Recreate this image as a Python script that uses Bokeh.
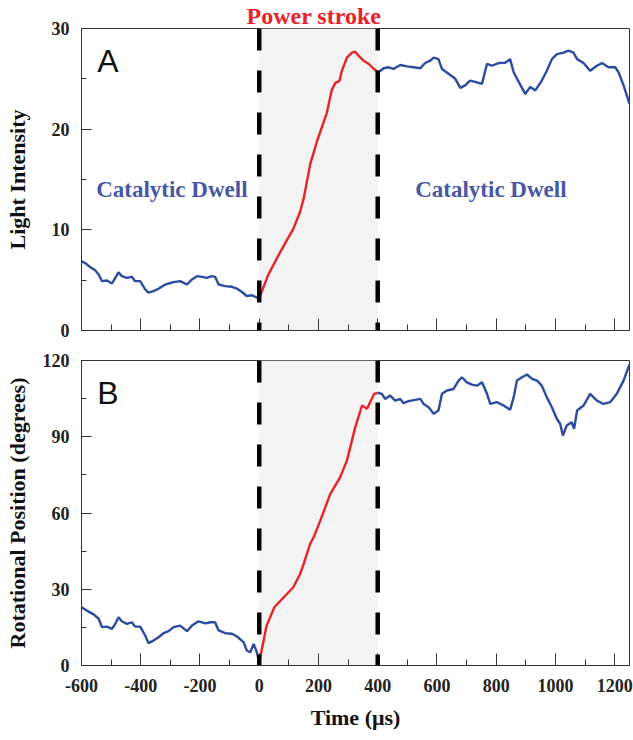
from bokeh.plotting import figure
from bokeh.layouts import column
from bokeh.models import Range1d, SingleIntervalTicker, Span, BoxAnnotation, Label
from bokeh.embed import file_html
from bokeh.resources import INLINE

# ---------------- data ----------------
stroke_start = 0
stroke_end = 400

x_ticks = [-600, -400, -200, 0, 200, 400, 600, 800, 1000, 1200]
x_tick_labels = ["-600", "-400", "-200", "0", "200", "400", "600", "800", "1000", "1200"]

# Panel A: light intensity
a_pre_t = [-600, -587, -571, -554, -542, -531, -514, -497, -486, -475, -464, -447, -430, -419, -402, -385, -374,
           -357, -340, -323, -306, -289, -267, -244, -227, -210, -193, -177, -160, -149, -137, -115, -92, -75,
           -58, -42, -25, -8, 0]
a_pre_v = [6.86, 6.7, 6.3, 5.98, 5.56, 4.9, 4.97, 4.67, 5.23, 5.78, 5.4, 5.23, 5.33, 4.9, 4.9, 4.08, 3.76,
           3.92, 4.15, 4.48, 4.67, 4.8, 4.9, 4.57, 5.07, 5.4, 5.33, 5.23, 5.4, 5.33, 4.57, 4.41, 4.34, 4.15,
           3.82, 3.43, 3.5, 3.27, 3.2]
a_stroke_t = [0, 30, 60, 90, 115, 138, 150, 172, 195, 228, 245, 257, 271, 279, 296, 313, 324, 335, 352, 369, 386, 400]
a_stroke_v = [3.2, 5.5, 7.2, 8.8, 10.1, 11.8, 13.1, 16.5, 18.8, 21.6, 23.9, 24.6, 24.8, 25.8, 27.1, 27.6, 27.7,
              27.3, 26.8, 26.5, 26.0, 25.7]
a_post_t = [400, 403, 420, 437, 453, 476, 499, 521, 544, 560, 577, 589, 605, 617, 639, 662, 679, 695, 712, 729,
            752, 769, 785, 808, 830, 847, 859, 876, 898, 915, 932, 954, 971, 988, 1005, 1027, 1044, 1061, 1073,
            1095, 1117, 1140, 1157, 1179, 1202, 1213, 1230, 1250]
a_post_v = [25.7, 25.65, 26.05, 26.15, 25.98, 26.37, 26.24, 26.15, 26.05, 26.57, 26.8, 27.1, 26.96, 25.98, 25.5,
            25.0, 24.1, 24.35, 24.83, 24.7, 24.5, 26.5, 26.3, 26.57, 26.6, 26.96, 25.65, 24.7, 23.5, 24.2, 23.85,
            24.83, 25.8, 26.96, 27.45, 27.6, 27.8, 27.6, 26.96, 26.57, 25.8, 26.3, 26.57, 26.15, 26.15, 25.65,
            24.35, 22.5]

# Panel B: rotational position (degrees)
b_pre_t = [-600, -582, -559, -542, -531, -514, -497, -486, -475, -464, -447, -430, -419, -402, -385, -374, -357,
           -340, -323, -306, -289, -267, -244, -227, -205, -182, -165, -149, -137, -115, -92, -75, -53, -42, -30,
           -19, -8, 0]
b_pre_v = [22.9, 21.6, 20.1, 18.4, 15.1, 15.3, 14.4, 16.4, 19.0, 17.4, 16.4, 17.0, 15.3, 15.3, 11.8, 8.8, 9.8,
           11.1, 12.7, 13.5, 15.1, 15.7, 13.5, 15.7, 17.4, 16.6, 17.0, 17.0, 13.8, 12.7, 12.5, 11.4, 9.2, 5.9,
           5.2, 8.5, 5.2, 1.3]
b_stroke_t = [0, 25, 51, 115, 138, 150, 172, 184, 206, 240, 273, 296, 324, 347, 364, 388, 400]
b_stroke_v = [1.3, 15.7, 22.9, 30.8, 36.0, 40.0, 47.9, 50.5, 57.0, 67.5, 74.0, 80.6, 93.7, 102.3, 101.0, 106.9, 107.3]
b_post_t = [400, 414, 425, 442, 459, 476, 487, 504, 527, 544, 555, 572, 589, 605, 617, 634, 656, 673, 684, 701,
            718, 735, 752, 769, 780, 802, 825, 847, 859, 870, 887, 904, 921, 938, 954, 971, 988, 1005, 1016,
            1025, 1038, 1055, 1063, 1073, 1095, 1117, 1140, 1162, 1185, 1207, 1230, 1250]
b_post_v = [107.3, 106.9, 104.9, 106.2, 104.2, 104.9, 103.2, 104.0, 104.5, 104.9, 102.9, 101.6, 99.0, 100.3,
            106.9, 108.2, 108.8, 112.1, 113.4, 111.4, 110.5, 110.1, 111.4, 106.9, 102.9, 103.6, 102.3, 100.6,
            105.5, 112.1, 113.4, 114.5, 112.8, 112.1, 110.1, 105.5, 101.6, 97.0, 95.1, 90.5, 94.4, 95.7, 93.1,
            100.3, 102.3, 106.9, 104.2, 102.9, 103.6, 106.9, 112.1, 118.5]

x_min, x_max = -600, 1250
a_max, b_max = 30, 120

BLUE = "#2b4c9f"
RED = "#e8222b"
TEXT_BLUE = "#4757a6"
SERIF = "Liberation Serif"
SANS = "Liberation Sans"


def style(p, ytick, show_xlabels):
    p.xgrid.visible = False
    p.ygrid.visible = False
    p.outline_line_color = "#333333"
    p.outline_line_width = 1
    p.background_fill_color = "white"
    p.border_fill_color = "white"
    for ax in (p.xaxis[0], p.yaxis[0]):
        ax.axis_line_color = "#333333"
        ax.major_tick_line_color = "#333333"
        ax.minor_tick_line_color = "#333333"
        ax.major_tick_out = 0
        ax.minor_tick_out = 0
        ax.major_label_text_font = SERIF
        ax.major_label_text_font_style = "bold"
        ax.major_label_text_font_size = "18px"
        ax.major_label_text_color = "#222222"
        ax.axis_label_text_font = SERIF
        ax.axis_label_text_font_style = "bold"
        ax.axis_label_text_font_size = "22px"
        ax.axis_label_text_color = "#111111"
    p.xaxis.ticker = SingleIntervalTicker(interval=200, num_minor_ticks=2)
    p.xaxis.major_tick_in = 12
    p.xaxis.minor_tick_in = 6
    p.yaxis.ticker = SingleIntervalTicker(interval=ytick, num_minor_ticks=2)
    p.yaxis.major_tick_in = 10
    p.yaxis.minor_tick_in = 5
    p.yaxis.major_label_standoff = 12
    if show_xlabels:
        p.xaxis.major_label_overrides = {t: s for t, s in zip(x_ticks, x_tick_labels)}
        p.xaxis.major_label_standoff = 13
    else:
        p.xaxis.major_label_overrides = {t: "" for t in x_ticks}
        p.xaxis.major_label_text_font_size = "1px"
        p.xaxis.major_label_standoff = 0


def add_common(p):
    p.add_layout(BoxAnnotation(left=stroke_start, right=stroke_end, fill_color="#f3f3f3",
                               fill_alpha=1.0, line_color=None, level="underlay"))
    for loc in (stroke_start, stroke_end):
        p.add_layout(Span(location=loc, dimension="height", line_color="black",
                          line_width=4.5, line_dash="22 20"))


# ---------------- panel A ----------------
pa = figure(width=633, height=345, output_backend="svg", toolbar_location=None,
            x_range=Range1d(x_min, x_max), y_range=Range1d(0, a_max),
            min_border_left=81, min_border_right=4, min_border_top=24, min_border_bottom=15,
            title="Power stroke")
pa.title.align = "left"
pa.title.offset = 165
pa.title.standoff = 0
pa.title.text_font = SERIF
pa.title.text_font_style = "bold"
pa.title.text_font_size = "24px"
pa.title.text_color = RED
pa.title.vertical_align = "bottom"
style(pa, 10, False)
pa.yaxis.axis_label = "Light Intensity"
pa.yaxis.axis_label_standoff = 19
add_common(pa)
pa.line(a_pre_t, a_pre_v, line_color=BLUE, line_width=2.4)
pa.line(a_post_t, a_post_v, line_color=BLUE, line_width=2.4)
pa.line(a_stroke_t, a_stroke_v, line_color=RED, line_width=2.4)
pa.add_layout(Label(x=-547, y=28.6, text="A", text_font=SANS, text_font_size="32px",
                    text_color="#111111", text_baseline="top"))
pa.add_layout(Label(x=-295, y=14.0, text="Catalytic Dwell", text_font=SERIF, text_font_style="bold",
                    text_font_size="23px", text_color=TEXT_BLUE, text_align="center",
                    text_baseline="middle"))
pa.add_layout(Label(x=782, y=14.0, text="Catalytic Dwell", text_font=SERIF, text_font_style="bold",
                    text_font_size="23px", text_color=TEXT_BLUE, text_align="center",
                    text_baseline="middle"))

# ---------------- panel B ----------------
pb = figure(width=633, height=394, output_backend="svg", toolbar_location=None,
            x_range=pa.x_range, y_range=Range1d(0, b_max),
            min_border_left=81, min_border_right=4, min_border_top=15, min_border_bottom=74)
style(pb, 30, True)
pb.yaxis.axis_label = "Rotational Position (degrees)"
pb.yaxis.axis_label_standoff = 10
pb.xaxis.axis_label = "Time (\u03bcs)"
pb.xaxis.axis_label_standoff = 10
add_common(pb)
pb.line(b_pre_t, b_pre_v, line_color=BLUE, line_width=2.4)
pb.line(b_post_t, b_post_v, line_color=BLUE, line_width=2.4)
pb.line(b_stroke_t, b_stroke_v, line_color=RED, line_width=2.4)
pb.add_layout(Label(x=-547, y=114.3, text="B", text_font=SANS, text_font_size="32px",
                    text_color="#111111", text_baseline="top"))

layout = column(pa, pb, spacing=0)
open("out.html", "w").write(file_html(layout, INLINE))
